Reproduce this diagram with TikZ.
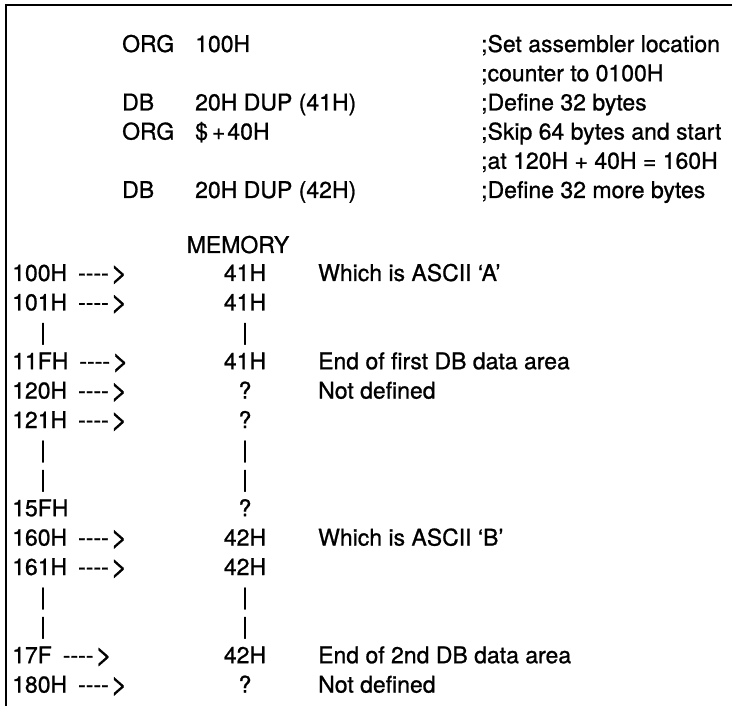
\documentclass[tikz,border=0pt]{standalone}
\usepackage{fontspec}
\setmainfont{TeX Gyre Heros}[FakeBold=0.9]
\usetikzlibrary{positioning}
\newcommand{\memarrow}{\hspace{11pt}-{}-{}-{}-\hspace{2pt}\raisebox{-1pt}{\scalebox{1.25}{>}}}

\begin{document}
\begin{tikzpicture}[x=1pt,y=-1pt,
	txt/.style={anchor=base west,inner sep=0pt,font=\fontsize{23}{26}\selectfont},
	mid/.style={anchor=base,inner sep=0pt,font=\fontsize{23}{26}\selectfont}]
	\useasboundingbox (0,0) rectangle (732,706);
	\def\s{29.4}
	\def\t{29.2}
	% frame
	\draw[line width=2.2pt] (6,706) -- (6,5) -- (732,5);
	% source lines
	\node[txt] (org1) at (122,44+8) {ORG};
	\node[txt] (arg1) at (195,44+8) {100H};
	\node[txt] (db1) at (122,44+2*\t+8) {DB};
	\node[txt] (arg2) at (195,44+2*\t+8) {20H DUP (41H)};
	\node[txt] (org2) at (122,44+3*\t+8) {ORG};
	\node[txt] (arg3) at (195,44+3*\t+8) {\$\hspace{4pt}+\hspace{2pt}40H};
	\node[txt] (db2) at (122,44+5*\t+8) {DB};
	\node[txt] (arg4) at (195,44+5*\t+8) {20H DUP (42H)};
	\foreach \k/\c in {0/{;Set assembler location},1/{;counter to 0100H},2/{;Define 32 bytes},3/{;Skip 64 bytes and start},4/{;at 120H + 40H = 160H},5/{;Define 32 more bytes}}
	\node[txt] (com\k) at (481,44+\k*\t+8) {\c};
	% memory map
	\node[mid] (mem) at (238,245+8) {MEMORY};
	\foreach \k/\a/\v in {0/{100H\memarrow}/41H,1/{101H\memarrow}/41H,3/{11FH\memarrow}/41H,4/{120H\memarrow}/?,5/{121H\memarrow}/?,8/15FH/?,9/{160H\memarrow}/42H,10/{161H\memarrow}/42H,13/{17F\memarrow}/42H,14/{180H\memarrow}/?}
	{
		\node[txt] (adr\k) at (12,273+\k*\s+8) {\a};
		\node[mid] (val\k) at (245,273+\k*\s+8) {\v};
	}
	\foreach \k in {2,6,7,11,12}
	{
		\node[mid] (bara\k) at (43,273+\k*\s+8) {|};
		\node[mid] (barb\k) at (245,273+\k*\s+8) {|};
	}
	\node[txt] (note0) at (318,273+8) {Which is ASCII `A'};
	\node[txt] (note3) at (318,273+3*\s+8) {End of first DB data area};
	\node[txt] (note4) at (318,273+4*\s+8) {Not defined};
	\node[txt] (note9) at (318,273+9*\s+8) {Which is ASCII `B'};
	\node[txt] (note13) at (318,273+13*\s+8) {End of 2nd DB data area};
	\node[txt] (note14) at (318,273+14*\s+8) {Not defined};
\end{tikzpicture}
\end{document}
